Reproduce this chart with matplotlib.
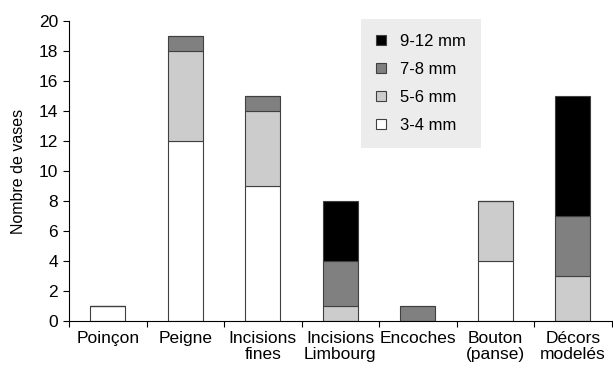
import matplotlib
matplotlib.use("Agg")
import matplotlib.pyplot as plt
import numpy as np

plt.rcParams['font.family'] = ['Liberation Sans', 'DejaVu Sans']

categories = ["Poinçon", "Peigne", "Incisions\nfines", "Incisions\nLimbourg",
              "Encoches", "Bouton\n(panse)", "Décors\nmodelés"]
s_3_4 = [1, 12, 9, 0, 0, 4, 0]
s_5_6 = [0, 6, 5, 1, 0, 4, 3]
s_7_8 = [0, 1, 1, 3, 1, 0, 4]
s_9_12 = [0, 0, 0, 4, 0, 0, 8]
series = [("3-4 mm", s_3_4, "#ffffff"), ("5-6 mm", s_5_6, "#cccccc"),
          ("7-8 mm", s_7_8, "#808080"), ("9-12 mm", s_9_12, "#000000")]

fig = plt.figure(figsize=(6.13, 3.72), dpi=100)
ax = fig.add_axes([0.1126, 0.137, 0.885, 0.8065])
x = np.arange(len(categories))
bottom = np.zeros(len(categories))
handles = []
for label, vals, color in series:
    vals = np.array(vals, dtype=float)
    b = ax.bar(x, vals, width=0.45, bottom=bottom, color=color,
               edgecolor="#404040", linewidth=0.8, label=label)
    handles.append(b)
    bottom += vals

ax.set_xlim(-0.5, len(categories) - 0.5)
ax.set_ylim(0, 20)
ax.set_yticks(range(0, 21, 2))
ax.set_xticks(x)
ax.set_xticklabels(categories, fontsize=12.5, linespacing=1.1)
ax.tick_params(axis='x', length=0, pad=7)
ax.set_xticks(np.arange(-0.5, len(categories), 1), minor=True)
ax.tick_params(axis='x', which='minor', length=4, direction='out', width=0.8)
ax.tick_params(axis='y', labelsize=12.5, length=4, width=0.8, pad=4)
ax.set_ylabel("Nombre de vases", fontsize=11.5, labelpad=9)
for s in ["top", "right"]:
    ax.spines[s].set_visible(False)
for s in ["left", "bottom"]:
    ax.spines[s].set_linewidth(0.8)
    ax.spines[s].set_color("#000000")

leg = fig.legend(handles[::-1], [h.get_label() for h in handles[::-1]],
                 loc="upper left", bbox_to_anchor=(361 / 613, 1 - 19 / 372),
                 frameon=True, fancybox=False, fontsize=12,
                 handlelength=0.6, handleheight=0.6, labelspacing=0.78,
                 borderpad=0.9, handletextpad=0.85, borderaxespad=0)
leg.get_frame().set_facecolor("#ececec")
leg.get_frame().set_edgecolor("none")
leg.get_frame().set_alpha(1)

fig.savefig("out.png", dpi=100)
